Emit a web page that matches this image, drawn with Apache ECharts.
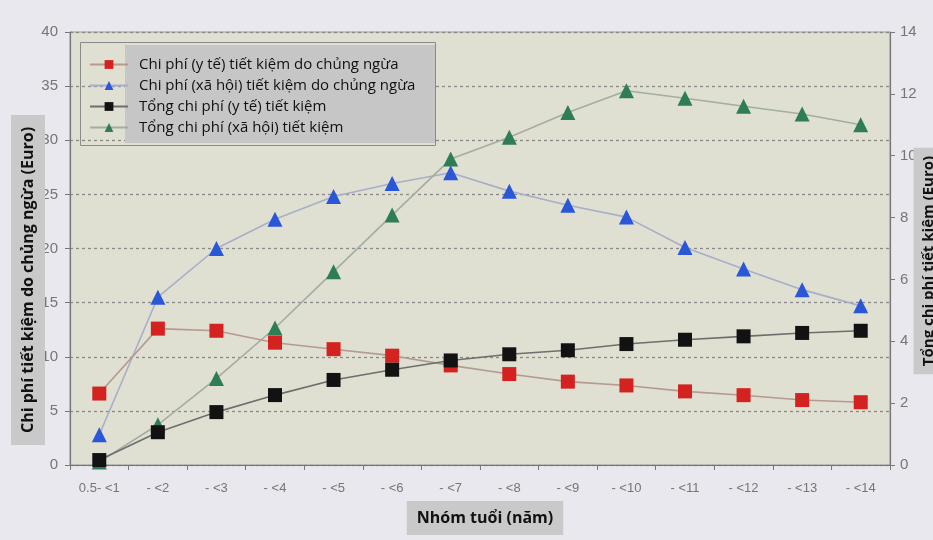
<!DOCTYPE html>
<html>
<head>
<meta charset="utf-8">
<script src="https://cdn.jsdelivr.net/npm/echarts@6/dist/echarts.min.js"></script>
<style>
  html, body { margin: 0; padding: 0; background: #e7e7ed; }
  #chart { width: 933px; height: 540px; }
</style>
</head>
<body>
<div id="chart"></div>
<script>
// Age groups (years)
const ageGroups = ['0.5- <1', '- <2', '- <3', '- <4', '- <5', '- <6', '- <7',
                   '- <8', '- <9', '- <10', '- <11', '- <12', '- <13', '- <14'];

// Savings per vaccination (Euro) – left axis
const medicalSaving = [6.6, 12.6, 12.4, 11.3, 10.7, 10.1, 9.2, 8.4, 7.7, 7.35, 6.8, 6.45, 6.0, 5.8];
const socialSaving  = [2.8, 15.5, 20.0, 22.7, 24.8, 26.0, 27.0, 25.3, 24.0, 22.9, 20.1, 18.1, 16.2, 14.7];

// Total savings (Euro) – right axis
const totalMedical = [0.16, 1.06, 1.71, 2.26, 2.75, 3.08, 3.38, 3.58, 3.71, 3.91, 4.05, 4.16, 4.27, 4.34];
const totalSocial  = [0.1, 1.3, 2.8, 4.43, 6.25, 8.08, 9.89, 10.6, 11.4, 12.1, 11.86, 11.6, 11.35, 11.0];

// Tick settings
const leftMax = 40, leftStep = 5;
const rightMax = 14, rightStep = 2;

const names = [
  'Chi phí (y tế) tiết kiệm do chủng ngừa',
  'Chi phí (xã hội) tiết kiệm do chủng ngừa',
  'Tổng chi phí (y tế) tiết kiệm',
  'Tổng chi phí (xã hội) tiết kiệm'
];
const xTitle = 'Nhóm tuổi (năm)';
const leftTitle = 'Chi phí tiết kiệm do chủng ngừa (Euro)';
const rightTitle = 'Tổng chi phí tiết kiệm (Euro)';

const chart = echarts.init(document.getElementById('chart'), null, { renderer: 'canvas' });

const tickLabel = { color: '#767676', fontSize: 15, fontFamily: 'Liberation Sans, Arial, sans-serif' };
const titleFont = 'Open Sans, Noto Sans, sans-serif';

function lineSeries(name, data, axis, symbol, size, markerColor, lineColor) {
  return {
    name, type: 'line', data, yAxisIndex: axis,
    symbol, symbolSize: size, showSymbol: true,
    itemStyle: { color: markerColor },
    lineStyle: { color: lineColor, width: 1.6 },
    emphasis: { disabled: true },
    animation: false
  };
}

// Boxed axis title drawn as a graphic text element
function boxedTitle(text, x, y, rotation, fontSize, padding) {
  return {
    type: 'text', x, y, rotation, z: 20,
    style: {
      text, fill: '#111', font: 'bold ' + fontSize + 'px ' + titleFont,
      align: 'center', verticalAlign: 'middle',
      backgroundColor: '#c9c9c9', padding
    }
  };
}

chart.setOption({
  backgroundColor: '#e8e8ee',
  animation: false,
  grid: {
    left: 70, right: 43, top: 32, bottom: 75,
    containLabel: false, outerBoundsMode: 'none',
    show: true, backgroundColor: '#dfdfd2', borderColor: '#9a9a9a', borderWidth: 1
  },
  graphic: [
    { type: 'rect', left: 80, top: 42, shape: { width: 355, height: 103 },
      style: { fill: 'rgba(0,0,0,0)', stroke: '#8a8a8a', lineWidth: 1 }, z: 5 },
    { type: 'rect', left: 125, top: 45, shape: { width: 310, height: 98 },
      style: { fill: '#c6c6c6' }, z: 5 },
    boxedTitle(xTitle, 485, 518, 0, 16, [9, 10, 9, 10]),
    boxedTitle(leftTitle, 28, 280, Math.PI / 2, 16, [9, 12, 9, 12]),
    boxedTitle(rightTitle, 929, 261, Math.PI / 2, 15, [8, 8, 8, 8])
  ],
  legend: {
    data: names,
    orient: 'vertical',
    left: 84, top: 52,
    itemWidth: 38, itemHeight: 11, itemGap: 6,
    textStyle: { color: '#111', fontSize: 15, fontFamily: titleFont, padding: [0, 0, 0, 6] },
    z: 10
  },
  xAxis: {
    type: 'category',
    data: ageGroups,
    boundaryGap: true,
    axisLine: { lineStyle: { color: '#777', width: 1.2 } },
    axisTick: { show: true, alignWithLabel: false, length: 5, lineStyle: { color: '#777' } },
    axisLabel: Object.assign({}, tickLabel, { fontSize: 13, margin: 17 })
  },
  yAxis: [
    {
      type: 'value', min: 0, max: leftMax, interval: leftStep, position: 'left',
      axisLine: { show: true, lineStyle: { color: '#777', width: 1.2 } },
      axisTick: { show: true, length: 5, lineStyle: { color: '#777' } },
      axisLabel: Object.assign({}, tickLabel, { margin: 12 }),
      splitLine: { show: true, lineStyle: { color: '#8a8a8a', type: [3, 3], width: 1.3 } }
    },
    {
      type: 'value', min: 0, max: rightMax, interval: rightStep, position: 'right',
      axisLine: { show: true, lineStyle: { color: '#777', width: 1.2 } },
      axisTick: { show: true, length: 5, lineStyle: { color: '#777' } },
      axisLabel: Object.assign({}, tickLabel, { margin: 10 }),
      splitLine: { show: false }
    }
  ],
  series: [
    lineSeries(names[1], socialSaving, 0, 'triangle', 15, '#2a56d8', '#a9aec8'),
    lineSeries(names[3], totalSocial, 1, 'triangle', 15, '#2f7d57', '#a3ada3'),
    lineSeries(names[0], medicalSaving, 0, 'rect', 14, '#d3221f', '#b59a90'),
    lineSeries(names[2], totalMedical, 1, 'rect', 14, '#121212', '#6e6e6e')
  ]
});
</script>
</body>
</html>
